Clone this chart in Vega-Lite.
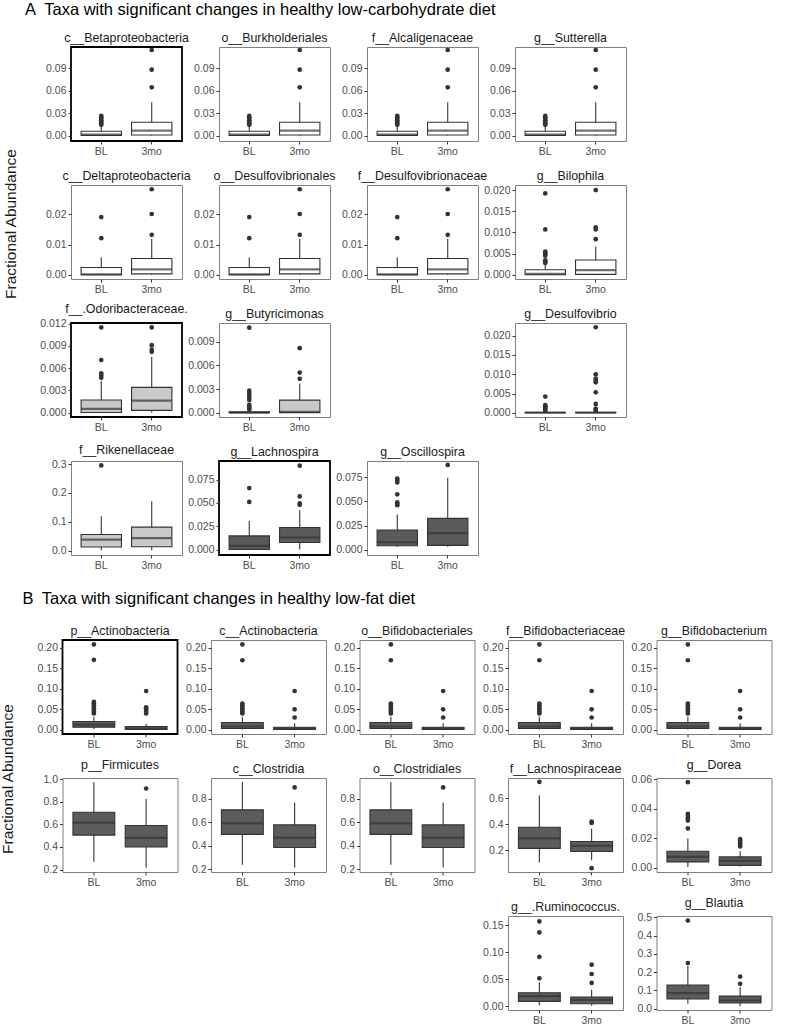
{
"$schema": "https://vega.github.io/schema/vega-lite/v6.json",
"padding": {"left": 0, "top": 2, "right": 2, "bottom": 2},
"datasets": {"d": [
{"p":"c__Betaproteobacteria","g":"BL","lo":0,"q1":0.0004,"md":0.0015,"q3":0.006,"hi":0.0135},
{"p":"c__Betaproteobacteria","g":"3mo","lo":0,"q1":0.001,"md":0.0067,"q3":0.018,"hi":0.0445},
{"p":"c__Betaproteobacteria","g":"BL","v":0.0145},{"p":"c__Betaproteobacteria","g":"BL","v":0.0165},{"p":"c__Betaproteobacteria","g":"BL","v":0.0185},{"p":"c__Betaproteobacteria","g":"BL","v":0.0205},{"p":"c__Betaproteobacteria","g":"BL","v":0.0225},{"p":"c__Betaproteobacteria","g":"BL","v":0.0245},{"p":"c__Betaproteobacteria","g":"BL","v":0.0265},
{"p":"c__Betaproteobacteria","g":"3mo","v":0.0645},{"p":"c__Betaproteobacteria","g":"3mo","v":0.088},{"p":"c__Betaproteobacteria","g":"3mo","v":0.1143},
{"p":"o__Burkholderiales","g":"BL","lo":0,"q1":0.0004,"md":0.0015,"q3":0.006,"hi":0.0135},
{"p":"o__Burkholderiales","g":"3mo","lo":0,"q1":0.001,"md":0.0067,"q3":0.018,"hi":0.0445},
{"p":"o__Burkholderiales","g":"BL","v":0.0145},{"p":"o__Burkholderiales","g":"BL","v":0.0165},{"p":"o__Burkholderiales","g":"BL","v":0.0185},{"p":"o__Burkholderiales","g":"BL","v":0.0205},{"p":"o__Burkholderiales","g":"BL","v":0.0225},{"p":"o__Burkholderiales","g":"BL","v":0.0245},{"p":"o__Burkholderiales","g":"BL","v":0.0265},
{"p":"o__Burkholderiales","g":"3mo","v":0.0645},{"p":"o__Burkholderiales","g":"3mo","v":0.088},{"p":"o__Burkholderiales","g":"3mo","v":0.1143},
{"p":"f__Alcaligenaceae","g":"BL","lo":0,"q1":0.0004,"md":0.0015,"q3":0.006,"hi":0.0135},
{"p":"f__Alcaligenaceae","g":"3mo","lo":0,"q1":0.001,"md":0.0067,"q3":0.018,"hi":0.0445},
{"p":"f__Alcaligenaceae","g":"BL","v":0.0145},{"p":"f__Alcaligenaceae","g":"BL","v":0.0165},{"p":"f__Alcaligenaceae","g":"BL","v":0.0185},{"p":"f__Alcaligenaceae","g":"BL","v":0.0205},{"p":"f__Alcaligenaceae","g":"BL","v":0.0225},{"p":"f__Alcaligenaceae","g":"BL","v":0.0245},{"p":"f__Alcaligenaceae","g":"BL","v":0.0265},
{"p":"f__Alcaligenaceae","g":"3mo","v":0.0645},{"p":"f__Alcaligenaceae","g":"3mo","v":0.088},{"p":"f__Alcaligenaceae","g":"3mo","v":0.1143},
{"p":"g__Sutterella","g":"BL","lo":0,"q1":0.0004,"md":0.0015,"q3":0.006,"hi":0.0135},
{"p":"g__Sutterella","g":"3mo","lo":0,"q1":0.001,"md":0.0067,"q3":0.018,"hi":0.0445},
{"p":"g__Sutterella","g":"BL","v":0.0145},{"p":"g__Sutterella","g":"BL","v":0.0165},{"p":"g__Sutterella","g":"BL","v":0.0185},{"p":"g__Sutterella","g":"BL","v":0.0205},{"p":"g__Sutterella","g":"BL","v":0.0225},{"p":"g__Sutterella","g":"BL","v":0.0245},{"p":"g__Sutterella","g":"BL","v":0.0265},
{"p":"g__Sutterella","g":"3mo","v":0.0645},{"p":"g__Sutterella","g":"3mo","v":0.088},{"p":"g__Sutterella","g":"3mo","v":0.1143},
{"p":"c__Deltaproteobacteria","g":"BL","lo":0,"q1":0,"md":0.0001,"q3":0.0024,"hi":0.0057},
{"p":"c__Deltaproteobacteria","g":"3mo","lo":0,"q1":0.0003,"md":0.0018,"q3":0.0054,"hi":0.0118},
{"p":"c__Deltaproteobacteria","g":"BL","v":0.0121},{"p":"c__Deltaproteobacteria","g":"BL","v":0.0191},
{"p":"c__Deltaproteobacteria","g":"3mo","v":0.0132},{"p":"c__Deltaproteobacteria","g":"3mo","v":0.0201},{"p":"c__Deltaproteobacteria","g":"3mo","v":0.0283},
{"p":"o__Desulfovibrionales","g":"BL","lo":0,"q1":0,"md":0.0001,"q3":0.0024,"hi":0.0057},
{"p":"o__Desulfovibrionales","g":"3mo","lo":0,"q1":0.0003,"md":0.0018,"q3":0.0054,"hi":0.0118},
{"p":"o__Desulfovibrionales","g":"BL","v":0.0121},{"p":"o__Desulfovibrionales","g":"BL","v":0.0191},
{"p":"o__Desulfovibrionales","g":"3mo","v":0.0132},{"p":"o__Desulfovibrionales","g":"3mo","v":0.0201},{"p":"o__Desulfovibrionales","g":"3mo","v":0.0283},
{"p":"f__Desulfovibrionaceae","g":"BL","lo":0,"q1":0,"md":0.0001,"q3":0.0024,"hi":0.0057},
{"p":"f__Desulfovibrionaceae","g":"3mo","lo":0,"q1":0.0003,"md":0.0018,"q3":0.0054,"hi":0.0118},
{"p":"f__Desulfovibrionaceae","g":"BL","v":0.0121},{"p":"f__Desulfovibrionaceae","g":"BL","v":0.0191},
{"p":"f__Desulfovibrionaceae","g":"3mo","v":0.0132},{"p":"f__Desulfovibrionaceae","g":"3mo","v":0.0201},{"p":"f__Desulfovibrionaceae","g":"3mo","v":0.0283},
{"p":"g__Bilophila","g":"BL","lo":0,"q1":0,"md":0.0002,"q3":0.0012,"hi":0.0025},
{"p":"g__Bilophila","g":"3mo","lo":0,"q1":0.0001,"md":0.0011,"q3":0.0035,"hi":0.0067},
{"p":"g__Bilophila","g":"BL","v":0.0028},{"p":"g__Bilophila","g":"BL","v":0.0031},{"p":"g__Bilophila","g":"BL","v":0.0034},{"p":"g__Bilophila","g":"BL","v":0.0045},{"p":"g__Bilophila","g":"BL","v":0.0049},{"p":"g__Bilophila","g":"BL","v":0.0052},{"p":"g__Bilophila","g":"BL","v":0.0055},{"p":"g__Bilophila","g":"BL","v":0.0107},{"p":"g__Bilophila","g":"BL","v":0.0192},
{"p":"g__Bilophila","g":"3mo","v":0.0084},{"p":"g__Bilophila","g":"3mo","v":0.0107},{"p":"g__Bilophila","g":"3mo","v":0.0112},{"p":"g__Bilophila","g":"3mo","v":0.02},
{"p":"f__.Odoribacteraceae.","g":"BL","lo":0,"q1":0,"md":0.0005,"q3":0.0017,"hi":0.0043},
{"p":"f__.Odoribacteraceae.","g":"3mo","lo":0,"q1":0.0003,"md":0.0016,"q3":0.0034,"hi":0.0075},
{"p":"f__.Odoribacteraceae.","g":"BL","v":0.0047},{"p":"f__.Odoribacteraceae.","g":"BL","v":0.005},{"p":"f__.Odoribacteraceae.","g":"BL","v":0.0053},{"p":"f__.Odoribacteraceae.","g":"BL","v":0.0071},{"p":"f__.Odoribacteraceae.","g":"BL","v":0.0115},
{"p":"f__.Odoribacteraceae.","g":"3mo","v":0.0082},{"p":"f__.Odoribacteraceae.","g":"3mo","v":0.0085},{"p":"f__.Odoribacteraceae.","g":"3mo","v":0.0091},{"p":"f__.Odoribacteraceae.","g":"3mo","v":0.0115},
{"p":"g__Butyricimonas","g":"BL","lo":0,"q1":0,"md":0,"q3":0.0001,"hi":0.0002},
{"p":"g__Butyricimonas","g":"3mo","lo":0,"q1":0,"md":0.0001,"q3":0.0016,"hi":0.0037},
{"p":"g__Butyricimonas","g":"BL","v":0.0004},{"p":"g__Butyricimonas","g":"BL","v":0.0006},{"p":"g__Butyricimonas","g":"BL","v":0.0008},{"p":"g__Butyricimonas","g":"BL","v":0.001},{"p":"g__Butyricimonas","g":"BL","v":0.0016},{"p":"g__Butyricimonas","g":"BL","v":0.0019},{"p":"g__Butyricimonas","g":"BL","v":0.0022},{"p":"g__Butyricimonas","g":"BL","v":0.0025},{"p":"g__Butyricimonas","g":"BL","v":0.0028},{"p":"g__Butyricimonas","g":"BL","v":0.0108},
{"p":"g__Butyricimonas","g":"3mo","v":0.0043},{"p":"g__Butyricimonas","g":"3mo","v":0.0051},{"p":"g__Butyricimonas","g":"3mo","v":0.0082},
{"p":"g__Desulfovibrio","g":"BL","lo":0,"q1":0,"md":0,"q3":0.0001,"hi":0.0002},
{"p":"g__Desulfovibrio","g":"3mo","lo":0,"q1":0,"md":0,"q3":0.0001,"hi":0.0002},
{"p":"g__Desulfovibrio","g":"BL","v":0.0005},{"p":"g__Desulfovibrio","g":"BL","v":0.0008},{"p":"g__Desulfovibrio","g":"BL","v":0.0011},{"p":"g__Desulfovibrio","g":"BL","v":0.0014},{"p":"g__Desulfovibrio","g":"BL","v":0.0017},{"p":"g__Desulfovibrio","g":"BL","v":0.002},{"p":"g__Desulfovibrio","g":"BL","v":0.0042},
{"p":"g__Desulfovibrio","g":"3mo","v":0.0005},{"p":"g__Desulfovibrio","g":"3mo","v":0.0008},{"p":"g__Desulfovibrio","g":"3mo","v":0.0011},{"p":"g__Desulfovibrio","g":"3mo","v":0.0023},{"p":"g__Desulfovibrio","g":"3mo","v":0.0053},{"p":"g__Desulfovibrio","g":"3mo","v":0.0079},{"p":"g__Desulfovibrio","g":"3mo","v":0.0084},{"p":"g__Desulfovibrio","g":"3mo","v":0.0089},{"p":"g__Desulfovibrio","g":"3mo","v":0.01},{"p":"g__Desulfovibrio","g":"3mo","v":0.0222},
{"p":"f__Rikenellaceae","g":"BL","lo":0.001,"q1":0.012,"md":0.038,"q3":0.0554,"hi":0.119},
{"p":"f__Rikenellaceae","g":"3mo","lo":0.001,"q1":0.013,"md":0.043,"q3":0.081,"hi":0.171},
{"p":"f__Rikenellaceae","g":"BL","v":0.295},
{"p":"g__Lachnospira","g":"BL","lo":0,"q1":0.0002,"md":0.0042,"q3":0.0148,"hi":0.0306},
{"p":"g__Lachnospira","g":"3mo","lo":0.0002,"q1":0.0078,"md":0.0131,"q3":0.0237,"hi":0.0423},
{"p":"g__Lachnospira","g":"BL","v":0.0511},{"p":"g__Lachnospira","g":"BL","v":0.0659},
{"p":"g__Lachnospira","g":"3mo","v":0.048},{"p":"g__Lachnospira","g":"3mo","v":0.0495},{"p":"g__Lachnospira","g":"3mo","v":0.057},{"p":"g__Lachnospira","g":"3mo","v":0.0898},
{"p":"g__Oscillospira","g":"BL","lo":0.003,"q1":0.0041,"md":0.0079,"q3":0.0205,"hi":0.0365},
{"p":"g__Oscillospira","g":"3mo","lo":0.003,"q1":0.0045,"md":0.0171,"q3":0.0324,"hi":0.0743},
{"p":"g__Oscillospira","g":"BL","v":0.046},{"p":"g__Oscillospira","g":"BL","v":0.0475},{"p":"g__Oscillospira","g":"BL","v":0.049},{"p":"g__Oscillospira","g":"BL","v":0.0573},{"p":"g__Oscillospira","g":"BL","v":0.0695},{"p":"g__Oscillospira","g":"BL","v":0.0715},{"p":"g__Oscillospira","g":"BL","v":0.0735},
{"p":"g__Oscillospira","g":"3mo","v":0.0876},
{"p":"p__Actinobacteria","g":"BL","lo":0.001,"q1":0.0063,"md":0.0125,"q3":0.02,"hi":0.032},
{"p":"p__Actinobacteria","g":"3mo","lo":0,"q1":0.001,"md":0.003,"q3":0.008,"hi":0.0146},
{"p":"p__Actinobacteria","g":"BL","v":0.04},{"p":"p__Actinobacteria","g":"BL","v":0.044},{"p":"p__Actinobacteria","g":"BL","v":0.048},{"p":"p__Actinobacteria","g":"BL","v":0.052},{"p":"p__Actinobacteria","g":"BL","v":0.056},{"p":"p__Actinobacteria","g":"BL","v":0.06},{"p":"p__Actinobacteria","g":"BL","v":0.064},{"p":"p__Actinobacteria","g":"BL","v":0.068},{"p":"p__Actinobacteria","g":"BL","v":0.171},{"p":"p__Actinobacteria","g":"BL","v":0.2087},
{"p":"p__Actinobacteria","g":"3mo","v":0.04},{"p":"p__Actinobacteria","g":"3mo","v":0.044},{"p":"p__Actinobacteria","g":"3mo","v":0.048},{"p":"p__Actinobacteria","g":"3mo","v":0.052},{"p":"p__Actinobacteria","g":"3mo","v":0.055},{"p":"p__Actinobacteria","g":"3mo","v":0.0947},
{"p":"c__Actinobacteria","g":"BL","lo":0.0005,"q1":0.003,"md":0.008,"q3":0.0178,"hi":0.032},
{"p":"c__Actinobacteria","g":"3mo","lo":0,"q1":0.001,"md":0.003,"q3":0.006,"hi":0.016},
{"p":"c__Actinobacteria","g":"BL","v":0.04},{"p":"c__Actinobacteria","g":"BL","v":0.044},{"p":"c__Actinobacteria","g":"BL","v":0.048},{"p":"c__Actinobacteria","g":"BL","v":0.052},{"p":"c__Actinobacteria","g":"BL","v":0.056},{"p":"c__Actinobacteria","g":"BL","v":0.06},{"p":"c__Actinobacteria","g":"BL","v":0.064},{"p":"c__Actinobacteria","g":"BL","v":0.17},{"p":"c__Actinobacteria","g":"BL","v":0.2087},
{"p":"c__Actinobacteria","g":"3mo","v":0.0299},{"p":"c__Actinobacteria","g":"3mo","v":0.05},{"p":"c__Actinobacteria","g":"3mo","v":0.0947},
{"p":"o__Bifidobacteriales","g":"BL","lo":0.0005,"q1":0.003,"md":0.008,"q3":0.0178,"hi":0.032},
{"p":"o__Bifidobacteriales","g":"3mo","lo":0,"q1":0.001,"md":0.003,"q3":0.006,"hi":0.016},
{"p":"o__Bifidobacteriales","g":"BL","v":0.04},{"p":"o__Bifidobacteriales","g":"BL","v":0.044},{"p":"o__Bifidobacteriales","g":"BL","v":0.048},{"p":"o__Bifidobacteriales","g":"BL","v":0.052},{"p":"o__Bifidobacteriales","g":"BL","v":0.056},{"p":"o__Bifidobacteriales","g":"BL","v":0.06},{"p":"o__Bifidobacteriales","g":"BL","v":0.064},{"p":"o__Bifidobacteriales","g":"BL","v":0.17},{"p":"o__Bifidobacteriales","g":"BL","v":0.2087},
{"p":"o__Bifidobacteriales","g":"3mo","v":0.0299},{"p":"o__Bifidobacteriales","g":"3mo","v":0.05},{"p":"o__Bifidobacteriales","g":"3mo","v":0.0947},
{"p":"f__Bifidobacteriaceae","g":"BL","lo":0.0005,"q1":0.003,"md":0.008,"q3":0.0178,"hi":0.032},
{"p":"f__Bifidobacteriaceae","g":"3mo","lo":0,"q1":0.001,"md":0.003,"q3":0.006,"hi":0.016},
{"p":"f__Bifidobacteriaceae","g":"BL","v":0.04},{"p":"f__Bifidobacteriaceae","g":"BL","v":0.044},{"p":"f__Bifidobacteriaceae","g":"BL","v":0.048},{"p":"f__Bifidobacteriaceae","g":"BL","v":0.052},{"p":"f__Bifidobacteriaceae","g":"BL","v":0.056},{"p":"f__Bifidobacteriaceae","g":"BL","v":0.06},{"p":"f__Bifidobacteriaceae","g":"BL","v":0.064},{"p":"f__Bifidobacteriaceae","g":"BL","v":0.17},{"p":"f__Bifidobacteriaceae","g":"BL","v":0.2087},
{"p":"f__Bifidobacteriaceae","g":"3mo","v":0.0299},{"p":"f__Bifidobacteriaceae","g":"3mo","v":0.05},{"p":"f__Bifidobacteriaceae","g":"3mo","v":0.0947},
{"p":"g__Bifidobacterium","g":"BL","lo":0.0005,"q1":0.003,"md":0.008,"q3":0.0178,"hi":0.032},
{"p":"g__Bifidobacterium","g":"3mo","lo":0,"q1":0.001,"md":0.003,"q3":0.006,"hi":0.016},
{"p":"g__Bifidobacterium","g":"BL","v":0.04},{"p":"g__Bifidobacterium","g":"BL","v":0.044},{"p":"g__Bifidobacterium","g":"BL","v":0.048},{"p":"g__Bifidobacterium","g":"BL","v":0.052},{"p":"g__Bifidobacterium","g":"BL","v":0.056},{"p":"g__Bifidobacterium","g":"BL","v":0.06},{"p":"g__Bifidobacterium","g":"BL","v":0.064},{"p":"g__Bifidobacterium","g":"BL","v":0.17},{"p":"g__Bifidobacterium","g":"BL","v":0.2087},
{"p":"g__Bifidobacterium","g":"3mo","v":0.0299},{"p":"g__Bifidobacterium","g":"3mo","v":0.05},{"p":"g__Bifidobacterium","g":"3mo","v":0.0947},
{"p":"p__Firmicutes","g":"BL","lo":0.269,"q1":0.505,"md":0.615,"q3":0.707,"hi":0.973},
{"p":"p__Firmicutes","g":"3mo","lo":0.216,"q1":0.4,"md":0.48,"q3":0.59,"hi":0.824},
{"p":"p__Firmicutes","g":"3mo","v":0.918},
{"p":"c__Clostridia","g":"BL","lo":0.239,"q1":0.497,"md":0.591,"q3":0.706,"hi":0.943},
{"p":"c__Clostridia","g":"3mo","lo":0.215,"q1":0.386,"md":0.47,"q3":0.578,"hi":0.769},
{"p":"c__Clostridia","g":"3mo","v":0.897},
{"p":"o__Clostridiales","g":"BL","lo":0.239,"q1":0.497,"md":0.591,"q3":0.706,"hi":0.943},
{"p":"o__Clostridiales","g":"3mo","lo":0.215,"q1":0.386,"md":0.47,"q3":0.578,"hi":0.769},
{"p":"o__Clostridiales","g":"3mo","v":0.897},
{"p":"f__Lachnospiraceae","g":"BL","lo":0.108,"q1":0.216,"md":0.293,"q3":0.378,"hi":0.62},
{"p":"f__Lachnospiraceae","g":"3mo","lo":0.124,"q1":0.192,"md":0.236,"q3":0.268,"hi":0.366},
{"p":"f__Lachnospiraceae","g":"BL","v":0.725},
{"p":"f__Lachnospiraceae","g":"3mo","v":0.41},{"p":"f__Lachnospiraceae","g":"3mo","v":0.42},{"p":"f__Lachnospiraceae","g":"3mo","v":0.064},
{"p":"g__Dorea","g":"BL","lo":0.0007,"q1":0.0041,"md":0.0075,"q3":0.0113,"hi":0.0199},
{"p":"g__Dorea","g":"3mo","lo":0.001,"q1":0.0018,"md":0.0048,"q3":0.0075,"hi":0.0113},
{"p":"g__Dorea","g":"BL","v":0.0267},{"p":"g__Dorea","g":"BL","v":0.032},{"p":"g__Dorea","g":"BL","v":0.0335},{"p":"g__Dorea","g":"BL","v":0.035},{"p":"g__Dorea","g":"BL","v":0.0365},{"p":"g__Dorea","g":"BL","v":0.0579},
{"p":"g__Dorea","g":"3mo","v":0.0145},{"p":"g__Dorea","g":"3mo","v":0.0155},{"p":"g__Dorea","g":"3mo","v":0.0165},{"p":"g__Dorea","g":"3mo","v":0.0175},{"p":"g__Dorea","g":"3mo","v":0.0185},{"p":"g__Dorea","g":"3mo","v":0.0195},
{"p":"g__.Ruminococcus.","g":"BL","lo":0.0018,"q1":0.0091,"md":0.019,"q3":0.025,"hi":0.0445},
{"p":"g__.Ruminococcus.","g":"3mo","lo":0.001,"q1":0.0048,"md":0.012,"q3":0.017,"hi":0.0305},
{"p":"g__.Ruminococcus.","g":"BL","v":0.0518},{"p":"g__.Ruminococcus.","g":"BL","v":0.0915},{"p":"g__.Ruminococcus.","g":"BL","v":0.1366},{"p":"g__.Ruminococcus.","g":"BL","v":0.157},
{"p":"g__.Ruminococcus.","g":"3mo","v":0.0433},{"p":"g__.Ruminococcus.","g":"3mo","v":0.0598},{"p":"g__.Ruminococcus.","g":"3mo","v":0.077},
{"p":"g__Blautia","g":"BL","lo":0.027,"q1":0.054,"md":0.085,"q3":0.13,"hi":0.235},
{"p":"g__Blautia","g":"3mo","lo":0.0146,"q1":0.031,"md":0.045,"q3":0.069,"hi":0.118},
{"p":"g__Blautia","g":"BL","v":0.25},{"p":"g__Blautia","g":"BL","v":0.482},
{"p":"g__Blautia","g":"3mo","v":0.136},{"p":"g__Blautia","g":"3mo","v":0.176}
]},
"data": {"name": "d"},
"spacing": 19,
"vconcat": [
{"title":{"text":"A\u2002Taxa with significant changes in healthy low-carbohydrate diet","fontSize":16.5,"anchor":"start","frame":"group","dx":22,"offset":12,"color":"#000000"},
 "columns":5,"align":"each","bounds":"flush","spacing":{"row":44,"column":37},
 "concat":[
  {"width":31,"height":1,"view":{"stroke":null},"data":{"values":[{"t":""}]},"mark":{"type":"text"},"encoding":{"text":{"field":"t","type":"nominal"}}},
  {"title":"c__Betaproteobacteria","width":111,"height":94,"view":{"stroke":"#000000","strokeWidth":1.8},"transform":[{"filter":{"field":"p","equal":"c__Betaproteobacteria"}}],"encoding":{"x":{"field":"g","type":"nominal","sort":["BL","3mo"],"title":null,"scale":{"paddingInner":0,"paddingOuter":0.1},"axis":{"labelAngle":0}}},"layer":[
   {"transform":[{"filter":{"field":"q1","valid":true}}],"mark":"rule","encoding":{"y":{"field":"lo","type":"quantitative","title":null},"y2":{"field":"hi"}}},
   {"transform":[{"filter":{"field":"q1","valid":true}}],"mark":{"type":"bar","fill":"#ffffff","width":{"band":0.8}},"encoding":{"y":{"field":"q1","type":"quantitative","title":null},"y2":{"field":"q3"}}},
   {"transform":[{"filter":{"field":"q1","valid":true}}],"mark":{"type":"tick","size":40},"encoding":{"y":{"field":"md","type":"quantitative","title":null,"scale":{"domain":[-0.0071,0.1183],"nice":false,"zero":false},"axis":{"values":[0,0.03,0.06,0.09],"format":".2f","tickCount":10}}}},
   {"transform":[{"filter":{"field":"v","valid":true}}],"mark":"point","encoding":{"y":{"field":"v","type":"quantitative","title":null}}}]},
  {"title":"o__Burkholderiales","width":111,"height":94,"transform":[{"filter":{"field":"p","equal":"o__Burkholderiales"}}],"encoding":{"x":{"field":"g","type":"nominal","sort":["BL","3mo"],"title":null,"scale":{"paddingInner":0,"paddingOuter":0.1},"axis":{"labelAngle":0}}},"layer":[
   {"transform":[{"filter":{"field":"q1","valid":true}}],"mark":"rule","encoding":{"y":{"field":"lo","type":"quantitative","title":null},"y2":{"field":"hi"}}},
   {"transform":[{"filter":{"field":"q1","valid":true}}],"mark":{"type":"bar","fill":"#ffffff","width":{"band":0.8}},"encoding":{"y":{"field":"q1","type":"quantitative","title":null},"y2":{"field":"q3"}}},
   {"transform":[{"filter":{"field":"q1","valid":true}}],"mark":{"type":"tick","size":40},"encoding":{"y":{"field":"md","type":"quantitative","title":null,"scale":{"domain":[-0.0071,0.1183],"nice":false,"zero":false},"axis":{"values":[0,0.03,0.06,0.09],"format":".2f","tickCount":10}}}},
   {"transform":[{"filter":{"field":"v","valid":true}}],"mark":"point","encoding":{"y":{"field":"v","type":"quantitative","title":null}}}]},
  {"title":"f__Alcaligenaceae","width":111,"height":94,"transform":[{"filter":{"field":"p","equal":"f__Alcaligenaceae"}}],"encoding":{"x":{"field":"g","type":"nominal","sort":["BL","3mo"],"title":null,"scale":{"paddingInner":0,"paddingOuter":0.1},"axis":{"labelAngle":0}}},"layer":[
   {"transform":[{"filter":{"field":"q1","valid":true}}],"mark":"rule","encoding":{"y":{"field":"lo","type":"quantitative","title":null},"y2":{"field":"hi"}}},
   {"transform":[{"filter":{"field":"q1","valid":true}}],"mark":{"type":"bar","fill":"#ffffff","width":{"band":0.8}},"encoding":{"y":{"field":"q1","type":"quantitative","title":null},"y2":{"field":"q3"}}},
   {"transform":[{"filter":{"field":"q1","valid":true}}],"mark":{"type":"tick","size":40},"encoding":{"y":{"field":"md","type":"quantitative","title":null,"scale":{"domain":[-0.0071,0.1183],"nice":false,"zero":false},"axis":{"values":[0,0.03,0.06,0.09],"format":".2f","tickCount":10}}}},
   {"transform":[{"filter":{"field":"v","valid":true}}],"mark":"point","encoding":{"y":{"field":"v","type":"quantitative","title":null}}}]},
  {"title":"g__Sutterella","width":111,"height":94,"transform":[{"filter":{"field":"p","equal":"g__Sutterella"}}],"encoding":{"x":{"field":"g","type":"nominal","sort":["BL","3mo"],"title":null,"scale":{"paddingInner":0,"paddingOuter":0.1},"axis":{"labelAngle":0}}},"layer":[
   {"transform":[{"filter":{"field":"q1","valid":true}}],"mark":"rule","encoding":{"y":{"field":"lo","type":"quantitative","title":null},"y2":{"field":"hi"}}},
   {"transform":[{"filter":{"field":"q1","valid":true}}],"mark":{"type":"bar","fill":"#ffffff","width":{"band":0.8}},"encoding":{"y":{"field":"q1","type":"quantitative","title":null},"y2":{"field":"q3"}}},
   {"transform":[{"filter":{"field":"q1","valid":true}}],"mark":{"type":"tick","size":40},"encoding":{"y":{"field":"md","type":"quantitative","title":null,"scale":{"domain":[-0.0071,0.1183],"nice":false,"zero":false},"axis":{"values":[0,0.03,0.06,0.09],"format":".2f","tickCount":10}}}},
   {"transform":[{"filter":{"field":"v","valid":true}}],"mark":"point","encoding":{"y":{"field":"v","type":"quantitative","title":null}}}]},
  {"width":31,"height":78,"view":{"stroke":null},"data":{"values":[{"t":"Fractional Abundance"}]},"mark":{"type":"text","angle":270,"baseline":"bottom","fontSize":15.5,"color":"#1a1a1a"},"encoding":{"text":{"field":"t","type":"nominal"}}},
  {"title":"c__Deltaproteobacteria","width":111,"height":94,"transform":[{"filter":{"field":"p","equal":"c__Deltaproteobacteria"}}],"encoding":{"x":{"field":"g","type":"nominal","sort":["BL","3mo"],"title":null,"scale":{"paddingInner":0,"paddingOuter":0.1},"axis":{"labelAngle":0}}},"layer":[
   {"transform":[{"filter":{"field":"q1","valid":true}}],"mark":"rule","encoding":{"y":{"field":"lo","type":"quantitative","title":null},"y2":{"field":"hi"}}},
   {"transform":[{"filter":{"field":"q1","valid":true}}],"mark":{"type":"bar","fill":"#ffffff","width":{"band":0.8}},"encoding":{"y":{"field":"q1","type":"quantitative","title":null},"y2":{"field":"q3"}}},
   {"transform":[{"filter":{"field":"q1","valid":true}}],"mark":{"type":"tick","size":40},"encoding":{"y":{"field":"md","type":"quantitative","title":null,"scale":{"domain":[-0.0014,0.0297],"nice":false,"zero":false},"axis":{"values":[0,0.01,0.02],"format":".2f","tickCount":10}}}},
   {"transform":[{"filter":{"field":"v","valid":true}}],"mark":"point","encoding":{"y":{"field":"v","type":"quantitative","title":null}}}]},
  {"title":"o__Desulfovibrionales","width":111,"height":94,"transform":[{"filter":{"field":"p","equal":"o__Desulfovibrionales"}}],"encoding":{"x":{"field":"g","type":"nominal","sort":["BL","3mo"],"title":null,"scale":{"paddingInner":0,"paddingOuter":0.1},"axis":{"labelAngle":0}}},"layer":[
   {"transform":[{"filter":{"field":"q1","valid":true}}],"mark":"rule","encoding":{"y":{"field":"lo","type":"quantitative","title":null},"y2":{"field":"hi"}}},
   {"transform":[{"filter":{"field":"q1","valid":true}}],"mark":{"type":"bar","fill":"#ffffff","width":{"band":0.8}},"encoding":{"y":{"field":"q1","type":"quantitative","title":null},"y2":{"field":"q3"}}},
   {"transform":[{"filter":{"field":"q1","valid":true}}],"mark":{"type":"tick","size":40},"encoding":{"y":{"field":"md","type":"quantitative","title":null,"scale":{"domain":[-0.0014,0.0297],"nice":false,"zero":false},"axis":{"values":[0,0.01,0.02],"format":".2f","tickCount":10}}}},
   {"transform":[{"filter":{"field":"v","valid":true}}],"mark":"point","encoding":{"y":{"field":"v","type":"quantitative","title":null}}}]},
  {"title":"f__Desulfovibrionaceae","width":111,"height":94,"transform":[{"filter":{"field":"p","equal":"f__Desulfovibrionaceae"}}],"encoding":{"x":{"field":"g","type":"nominal","sort":["BL","3mo"],"title":null,"scale":{"paddingInner":0,"paddingOuter":0.1},"axis":{"labelAngle":0}}},"layer":[
   {"transform":[{"filter":{"field":"q1","valid":true}}],"mark":"rule","encoding":{"y":{"field":"lo","type":"quantitative","title":null},"y2":{"field":"hi"}}},
   {"transform":[{"filter":{"field":"q1","valid":true}}],"mark":{"type":"bar","fill":"#ffffff","width":{"band":0.8}},"encoding":{"y":{"field":"q1","type":"quantitative","title":null},"y2":{"field":"q3"}}},
   {"transform":[{"filter":{"field":"q1","valid":true}}],"mark":{"type":"tick","size":40},"encoding":{"y":{"field":"md","type":"quantitative","title":null,"scale":{"domain":[-0.0014,0.0297],"nice":false,"zero":false},"axis":{"values":[0,0.01,0.02],"format":".2f","tickCount":10}}}},
   {"transform":[{"filter":{"field":"v","valid":true}}],"mark":"point","encoding":{"y":{"field":"v","type":"quantitative","title":null}}}]},
  {"title":"g__Bilophila","width":111,"height":94,"transform":[{"filter":{"field":"p","equal":"g__Bilophila"}}],"encoding":{"x":{"field":"g","type":"nominal","sort":["BL","3mo"],"title":null,"scale":{"paddingInner":0,"paddingOuter":0.1},"axis":{"labelAngle":0}}},"layer":[
   {"transform":[{"filter":{"field":"q1","valid":true}}],"mark":"rule","encoding":{"y":{"field":"lo","type":"quantitative","title":null},"y2":{"field":"hi"}}},
   {"transform":[{"filter":{"field":"q1","valid":true}}],"mark":{"type":"bar","fill":"#ffffff","width":{"band":0.8}},"encoding":{"y":{"field":"q1","type":"quantitative","title":null},"y2":{"field":"q3"}}},
   {"transform":[{"filter":{"field":"q1","valid":true}}],"mark":{"type":"tick","size":40},"encoding":{"y":{"field":"md","type":"quantitative","title":null,"scale":{"domain":[-0.001,0.0212],"nice":false,"zero":false},"axis":{"values":[0,0.005,0.01,0.015,0.02],"format":".3f","tickCount":10}}}},
   {"transform":[{"filter":{"field":"v","valid":true}}],"mark":"point","encoding":{"y":{"field":"v","type":"quantitative","title":null}}}]},
  {"width":31,"height":1,"view":{"stroke":null},"data":{"values":[{"t":""}]},"mark":{"type":"text"},"encoding":{"text":{"field":"t","type":"nominal"}}},
  {"title":"f__.Odoribacteraceae.","width":111,"height":94,"view":{"stroke":"#000000","strokeWidth":1.8},"transform":[{"filter":{"field":"p","equal":"f__.Odoribacteraceae."}}],"encoding":{"x":{"field":"g","type":"nominal","sort":["BL","3mo"],"title":null,"scale":{"paddingInner":0,"paddingOuter":0.1},"axis":{"labelAngle":0}}},"layer":[
   {"transform":[{"filter":{"field":"q1","valid":true}}],"mark":"rule","encoding":{"y":{"field":"lo","type":"quantitative","title":null},"y2":{"field":"hi"}}},
   {"transform":[{"filter":{"field":"q1","valid":true}}],"mark":{"type":"bar","fill":"#c9c9c9","width":{"band":0.8}},"encoding":{"y":{"field":"q1","type":"quantitative","title":null},"y2":{"field":"q3"}}},
   {"transform":[{"filter":{"field":"q1","valid":true}}],"mark":{"type":"tick","size":40},"encoding":{"y":{"field":"md","type":"quantitative","title":null,"scale":{"domain":[-0.0006,0.0121],"nice":false,"zero":false},"axis":{"values":[0,0.003,0.006,0.009,0.012],"format":".3f","tickCount":10}}}},
   {"transform":[{"filter":{"field":"v","valid":true}}],"mark":"point","encoding":{"y":{"field":"v","type":"quantitative","title":null}}}]},
  {"title":"g__Butyricimonas","width":111,"height":94,"transform":[{"filter":{"field":"p","equal":"g__Butyricimonas"}}],"encoding":{"x":{"field":"g","type":"nominal","sort":["BL","3mo"],"title":null,"scale":{"paddingInner":0,"paddingOuter":0.1},"axis":{"labelAngle":0}}},"layer":[
   {"transform":[{"filter":{"field":"q1","valid":true}}],"mark":"rule","encoding":{"y":{"field":"lo","type":"quantitative","title":null},"y2":{"field":"hi"}}},
   {"transform":[{"filter":{"field":"q1","valid":true}}],"mark":{"type":"bar","fill":"#c9c9c9","width":{"band":0.8}},"encoding":{"y":{"field":"q1","type":"quantitative","title":null},"y2":{"field":"q3"}}},
   {"transform":[{"filter":{"field":"q1","valid":true}}],"mark":{"type":"tick","size":40},"encoding":{"y":{"field":"md","type":"quantitative","title":null,"scale":{"domain":[-0.00055,0.0114],"nice":false,"zero":false},"axis":{"values":[0,0.003,0.006,0.009],"format":".3f","tickCount":10}}}},
   {"transform":[{"filter":{"field":"v","valid":true}}],"mark":"point","encoding":{"y":{"field":"v","type":"quantitative","title":null}}}]},
  {"width":111,"height":1,"view":{"stroke":null},"data":{"values":[{"t":""}]},"mark":{"type":"text"},"encoding":{"text":{"field":"t","type":"nominal"}}},
  {"title":"g__Desulfovibrio","width":111,"height":94,"transform":[{"filter":{"field":"p","equal":"g__Desulfovibrio"}}],"encoding":{"x":{"field":"g","type":"nominal","sort":["BL","3mo"],"title":null,"scale":{"paddingInner":0,"paddingOuter":0.1},"axis":{"labelAngle":0}}},"layer":[
   {"transform":[{"filter":{"field":"q1","valid":true}}],"mark":"rule","encoding":{"y":{"field":"lo","type":"quantitative","title":null},"y2":{"field":"hi"}}},
   {"transform":[{"filter":{"field":"q1","valid":true}}],"mark":{"type":"bar","fill":"#ffffff","width":{"band":0.8}},"encoding":{"y":{"field":"q1","type":"quantitative","title":null},"y2":{"field":"q3"}}},
   {"transform":[{"filter":{"field":"q1","valid":true}}],"mark":{"type":"tick","size":40},"encoding":{"y":{"field":"md","type":"quantitative","title":null,"scale":{"domain":[-0.0011,0.0233],"nice":false,"zero":false},"axis":{"values":[0,0.005,0.01,0.015,0.02],"format":".3f","tickCount":10}}}},
   {"transform":[{"filter":{"field":"v","valid":true}}],"mark":"point","encoding":{"y":{"field":"v","type":"quantitative","title":null}}}]},
  {"width":31,"height":1,"view":{"stroke":null},"data":{"values":[{"t":""}]},"mark":{"type":"text"},"encoding":{"text":{"field":"t","type":"nominal"}}},
  {"title":"f__Rikenellaceae","width":111,"height":94,"transform":[{"filter":{"field":"p","equal":"f__Rikenellaceae"}}],"encoding":{"x":{"field":"g","type":"nominal","sort":["BL","3mo"],"title":null,"scale":{"paddingInner":0,"paddingOuter":0.1},"axis":{"labelAngle":0}}},"layer":[
   {"transform":[{"filter":{"field":"q1","valid":true}}],"mark":"rule","encoding":{"y":{"field":"lo","type":"quantitative","title":null},"y2":{"field":"hi"}}},
   {"transform":[{"filter":{"field":"q1","valid":true}}],"mark":{"type":"bar","fill":"#c9c9c9","width":{"band":0.8}},"encoding":{"y":{"field":"q1","type":"quantitative","title":null},"y2":{"field":"q3"}}},
   {"transform":[{"filter":{"field":"q1","valid":true}}],"mark":{"type":"tick","size":40},"encoding":{"y":{"field":"md","type":"quantitative","title":null,"scale":{"domain":[-0.0155,0.3105],"nice":false,"zero":false},"axis":{"values":[0,0.1,0.2,0.3],"format":".1f","tickCount":10}}}},
   {"transform":[{"filter":{"field":"v","valid":true}}],"mark":"point","encoding":{"y":{"field":"v","type":"quantitative","title":null}}}]},
  {"title":"g__Lachnospira","width":111,"height":94,"view":{"stroke":"#000000","strokeWidth":1.8},"transform":[{"filter":{"field":"p","equal":"g__Lachnospira"}}],"encoding":{"x":{"field":"g","type":"nominal","sort":["BL","3mo"],"title":null,"scale":{"paddingInner":0,"paddingOuter":0.1},"axis":{"labelAngle":0}}},"layer":[
   {"transform":[{"filter":{"field":"q1","valid":true}}],"mark":"rule","encoding":{"y":{"field":"lo","type":"quantitative","title":null},"y2":{"field":"hi"}}},
   {"transform":[{"filter":{"field":"q1","valid":true}}],"mark":{"type":"bar","fill":"#5a5a5a","width":{"band":0.8}},"encoding":{"y":{"field":"q1","type":"quantitative","title":null},"y2":{"field":"q3"}}},
   {"transform":[{"filter":{"field":"q1","valid":true}}],"mark":{"type":"tick","size":40},"encoding":{"y":{"field":"md","type":"quantitative","title":null,"scale":{"domain":[-0.0056,0.0948],"nice":false,"zero":false},"axis":{"values":[0,0.025,0.05,0.075],"format":".3f","tickCount":10}}}},
   {"transform":[{"filter":{"field":"v","valid":true}}],"mark":"point","encoding":{"y":{"field":"v","type":"quantitative","title":null}}}]},
  {"title":"g__Oscillospira","width":111,"height":94,"transform":[{"filter":{"field":"p","equal":"g__Oscillospira"}}],"encoding":{"x":{"field":"g","type":"nominal","sort":["BL","3mo"],"title":null,"scale":{"paddingInner":0,"paddingOuter":0.1},"axis":{"labelAngle":0}}},"layer":[
   {"transform":[{"filter":{"field":"q1","valid":true}}],"mark":"rule","encoding":{"y":{"field":"lo","type":"quantitative","title":null},"y2":{"field":"hi"}}},
   {"transform":[{"filter":{"field":"q1","valid":true}}],"mark":{"type":"bar","fill":"#5a5a5a","width":{"band":0.8}},"encoding":{"y":{"field":"q1","type":"quantitative","title":null},"y2":{"field":"q3"}}},
   {"transform":[{"filter":{"field":"q1","valid":true}}],"mark":{"type":"tick","size":40},"encoding":{"y":{"field":"md","type":"quantitative","title":null,"scale":{"domain":[-0.0054,0.0917],"nice":false,"zero":false},"axis":{"values":[0,0.025,0.05,0.075],"format":".3f","tickCount":10}}}},
   {"transform":[{"filter":{"field":"v","valid":true}}],"mark":"point","encoding":{"y":{"field":"v","type":"quantitative","title":null}}}]}
 ]},
{"title":{"text":"B\u2002Taxa with significant changes in healthy low-fat diet","fontSize":16.5,"anchor":"start","frame":"group","dx":19.5,"offset":16,"color":"#000000"},
 "columns":6,"align":"each","bounds":"flush","spacing":{"row":44,"column":33.5},
 "concat":[
  {"width":26,"height":1,"view":{"stroke":null},"data":{"values":[{"t":""}]},"mark":{"type":"text"},"encoding":{"text":{"field":"t","type":"nominal"}}},
  {"title":"p__Actinobacteria","width":115,"height":94,"view":{"stroke":"#000000","strokeWidth":1.8},"transform":[{"filter":{"field":"p","equal":"p__Actinobacteria"}}],"encoding":{"x":{"field":"g","type":"nominal","sort":["BL","3mo"],"title":null,"scale":{"paddingInner":0,"paddingOuter":0.1},"axis":{"labelAngle":0}}},"layer":[
   {"transform":[{"filter":{"field":"q1","valid":true}}],"mark":"rule","encoding":{"y":{"field":"lo","type":"quantitative","title":null},"y2":{"field":"hi"}}},
   {"transform":[{"filter":{"field":"q1","valid":true}}],"mark":{"type":"bar","fill":"#5c5c5c","width":{"band":0.8}},"encoding":{"y":{"field":"q1","type":"quantitative","title":null},"y2":{"field":"q3"}}},
   {"transform":[{"filter":{"field":"q1","valid":true}}],"mark":{"type":"tick","size":42},"encoding":{"y":{"field":"md","type":"quantitative","title":null,"scale":{"domain":[-0.0104,0.2195],"nice":false,"zero":false},"axis":{"values":[0,0.05,0.1,0.15,0.2],"format":".2f","tickCount":10}}}},
   {"transform":[{"filter":{"field":"v","valid":true}}],"mark":"point","encoding":{"y":{"field":"v","type":"quantitative","title":null}}}]},
  {"title":"c__Actinobacteria","width":115,"height":94,"transform":[{"filter":{"field":"p","equal":"c__Actinobacteria"}}],"encoding":{"x":{"field":"g","type":"nominal","sort":["BL","3mo"],"title":null,"scale":{"paddingInner":0,"paddingOuter":0.1},"axis":{"labelAngle":0}}},"layer":[
   {"transform":[{"filter":{"field":"q1","valid":true}}],"mark":"rule","encoding":{"y":{"field":"lo","type":"quantitative","title":null},"y2":{"field":"hi"}}},
   {"transform":[{"filter":{"field":"q1","valid":true}}],"mark":{"type":"bar","fill":"#5c5c5c","width":{"band":0.8}},"encoding":{"y":{"field":"q1","type":"quantitative","title":null},"y2":{"field":"q3"}}},
   {"transform":[{"filter":{"field":"q1","valid":true}}],"mark":{"type":"tick","size":42},"encoding":{"y":{"field":"md","type":"quantitative","title":null,"scale":{"domain":[-0.0104,0.2195],"nice":false,"zero":false},"axis":{"values":[0,0.05,0.1,0.15,0.2],"format":".2f","tickCount":10}}}},
   {"transform":[{"filter":{"field":"v","valid":true}}],"mark":"point","encoding":{"y":{"field":"v","type":"quantitative","title":null}}}]},
  {"title":"o__Bifidobacteriales","width":115,"height":94,"transform":[{"filter":{"field":"p","equal":"o__Bifidobacteriales"}}],"encoding":{"x":{"field":"g","type":"nominal","sort":["BL","3mo"],"title":null,"scale":{"paddingInner":0,"paddingOuter":0.1},"axis":{"labelAngle":0}}},"layer":[
   {"transform":[{"filter":{"field":"q1","valid":true}}],"mark":"rule","encoding":{"y":{"field":"lo","type":"quantitative","title":null},"y2":{"field":"hi"}}},
   {"transform":[{"filter":{"field":"q1","valid":true}}],"mark":{"type":"bar","fill":"#5c5c5c","width":{"band":0.8}},"encoding":{"y":{"field":"q1","type":"quantitative","title":null},"y2":{"field":"q3"}}},
   {"transform":[{"filter":{"field":"q1","valid":true}}],"mark":{"type":"tick","size":42},"encoding":{"y":{"field":"md","type":"quantitative","title":null,"scale":{"domain":[-0.0104,0.2195],"nice":false,"zero":false},"axis":{"values":[0,0.05,0.1,0.15,0.2],"format":".2f","tickCount":10}}}},
   {"transform":[{"filter":{"field":"v","valid":true}}],"mark":"point","encoding":{"y":{"field":"v","type":"quantitative","title":null}}}]},
  {"title":"f__Bifidobacteriaceae","width":115,"height":94,"transform":[{"filter":{"field":"p","equal":"f__Bifidobacteriaceae"}}],"encoding":{"x":{"field":"g","type":"nominal","sort":["BL","3mo"],"title":null,"scale":{"paddingInner":0,"paddingOuter":0.1},"axis":{"labelAngle":0}}},"layer":[
   {"transform":[{"filter":{"field":"q1","valid":true}}],"mark":"rule","encoding":{"y":{"field":"lo","type":"quantitative","title":null},"y2":{"field":"hi"}}},
   {"transform":[{"filter":{"field":"q1","valid":true}}],"mark":{"type":"bar","fill":"#5c5c5c","width":{"band":0.8}},"encoding":{"y":{"field":"q1","type":"quantitative","title":null},"y2":{"field":"q3"}}},
   {"transform":[{"filter":{"field":"q1","valid":true}}],"mark":{"type":"tick","size":42},"encoding":{"y":{"field":"md","type":"quantitative","title":null,"scale":{"domain":[-0.0104,0.2195],"nice":false,"zero":false},"axis":{"values":[0,0.05,0.1,0.15,0.2],"format":".2f","tickCount":10}}}},
   {"transform":[{"filter":{"field":"v","valid":true}}],"mark":"point","encoding":{"y":{"field":"v","type":"quantitative","title":null}}}]},
  {"title":"g__Bifidobacterium","width":115,"height":94,"transform":[{"filter":{"field":"p","equal":"g__Bifidobacterium"}}],"encoding":{"x":{"field":"g","type":"nominal","sort":["BL","3mo"],"title":null,"scale":{"paddingInner":0,"paddingOuter":0.1},"axis":{"labelAngle":0}}},"layer":[
   {"transform":[{"filter":{"field":"q1","valid":true}}],"mark":"rule","encoding":{"y":{"field":"lo","type":"quantitative","title":null},"y2":{"field":"hi"}}},
   {"transform":[{"filter":{"field":"q1","valid":true}}],"mark":{"type":"bar","fill":"#5c5c5c","width":{"band":0.8}},"encoding":{"y":{"field":"q1","type":"quantitative","title":null},"y2":{"field":"q3"}}},
   {"transform":[{"filter":{"field":"q1","valid":true}}],"mark":{"type":"tick","size":42},"encoding":{"y":{"field":"md","type":"quantitative","title":null,"scale":{"domain":[-0.0104,0.2195],"nice":false,"zero":false},"axis":{"values":[0,0.05,0.1,0.15,0.2],"format":".2f","tickCount":10}}}},
   {"transform":[{"filter":{"field":"v","valid":true}}],"mark":"point","encoding":{"y":{"field":"v","type":"quantitative","title":null}}}]},
  {"width":26,"height":2,"view":{"stroke":null},"data":{"values":[{"t":"Fractional Abundance"}]},"mark":{"type":"text","angle":270,"baseline":"bottom","fontSize":15.5,"color":"#1a1a1a"},"encoding":{"text":{"field":"t","type":"nominal"}}},
  {"title":"p__Firmicutes","width":115,"height":94,"transform":[{"filter":{"field":"p","equal":"p__Firmicutes"}}],"encoding":{"x":{"field":"g","type":"nominal","sort":["BL","3mo"],"title":null,"scale":{"paddingInner":0,"paddingOuter":0.1},"axis":{"labelAngle":0}}},"layer":[
   {"transform":[{"filter":{"field":"q1","valid":true}}],"mark":"rule","encoding":{"y":{"field":"lo","type":"quantitative","title":null},"y2":{"field":"hi"}}},
   {"transform":[{"filter":{"field":"q1","valid":true}}],"mark":{"type":"bar","fill":"#5c5c5c","width":{"band":0.8}},"encoding":{"y":{"field":"q1","type":"quantitative","title":null},"y2":{"field":"q3"}}},
   {"transform":[{"filter":{"field":"q1","valid":true}}],"mark":{"type":"tick","size":42},"encoding":{"y":{"field":"md","type":"quantitative","title":null,"scale":{"domain":[0.178,1.011],"nice":false,"zero":false},"axis":{"values":[0.2,0.4,0.6,0.8,1.0],"format":".1f","tickCount":10}}}},
   {"transform":[{"filter":{"field":"v","valid":true}}],"mark":"point","encoding":{"y":{"field":"v","type":"quantitative","title":null}}}]},
  {"title":"c__Clostridia","width":115,"height":94,"transform":[{"filter":{"field":"p","equal":"c__Clostridia"}}],"encoding":{"x":{"field":"g","type":"nominal","sort":["BL","3mo"],"title":null,"scale":{"paddingInner":0,"paddingOuter":0.1},"axis":{"labelAngle":0}}},"layer":[
   {"transform":[{"filter":{"field":"q1","valid":true}}],"mark":"rule","encoding":{"y":{"field":"lo","type":"quantitative","title":null},"y2":{"field":"hi"}}},
   {"transform":[{"filter":{"field":"q1","valid":true}}],"mark":{"type":"bar","fill":"#5c5c5c","width":{"band":0.8}},"encoding":{"y":{"field":"q1","type":"quantitative","title":null},"y2":{"field":"q3"}}},
   {"transform":[{"filter":{"field":"q1","valid":true}}],"mark":{"type":"tick","size":42},"encoding":{"y":{"field":"md","type":"quantitative","title":null,"scale":{"domain":[0.177,0.977],"nice":false,"zero":false},"axis":{"values":[0.2,0.4,0.6,0.8],"format":".1f","tickCount":10}}}},
   {"transform":[{"filter":{"field":"v","valid":true}}],"mark":"point","encoding":{"y":{"field":"v","type":"quantitative","title":null}}}]},
  {"title":"o__Clostridiales","width":115,"height":94,"transform":[{"filter":{"field":"p","equal":"o__Clostridiales"}}],"encoding":{"x":{"field":"g","type":"nominal","sort":["BL","3mo"],"title":null,"scale":{"paddingInner":0,"paddingOuter":0.1},"axis":{"labelAngle":0}}},"layer":[
   {"transform":[{"filter":{"field":"q1","valid":true}}],"mark":"rule","encoding":{"y":{"field":"lo","type":"quantitative","title":null},"y2":{"field":"hi"}}},
   {"transform":[{"filter":{"field":"q1","valid":true}}],"mark":{"type":"bar","fill":"#5c5c5c","width":{"band":0.8}},"encoding":{"y":{"field":"q1","type":"quantitative","title":null},"y2":{"field":"q3"}}},
   {"transform":[{"filter":{"field":"q1","valid":true}}],"mark":{"type":"tick","size":42},"encoding":{"y":{"field":"md","type":"quantitative","title":null,"scale":{"domain":[0.177,0.977],"nice":false,"zero":false},"axis":{"values":[0.2,0.4,0.6,0.8],"format":".1f","tickCount":10}}}},
   {"transform":[{"filter":{"field":"v","valid":true}}],"mark":"point","encoding":{"y":{"field":"v","type":"quantitative","title":null}}}]},
  {"title":"f__Lachnospiraceae","width":115,"height":94,"transform":[{"filter":{"field":"p","equal":"f__Lachnospiraceae"}}],"encoding":{"x":{"field":"g","type":"nominal","sort":["BL","3mo"],"title":null,"scale":{"paddingInner":0,"paddingOuter":0.1},"axis":{"labelAngle":0}}},"layer":[
   {"transform":[{"filter":{"field":"q1","valid":true}}],"mark":"rule","encoding":{"y":{"field":"lo","type":"quantitative","title":null},"y2":{"field":"hi"}}},
   {"transform":[{"filter":{"field":"q1","valid":true}}],"mark":{"type":"bar","fill":"#5c5c5c","width":{"band":0.8}},"encoding":{"y":{"field":"q1","type":"quantitative","title":null},"y2":{"field":"q3"}}},
   {"transform":[{"filter":{"field":"q1","valid":true}}],"mark":{"type":"tick","size":42},"encoding":{"y":{"field":"md","type":"quantitative","title":null,"scale":{"domain":[0.0347,0.755],"nice":false,"zero":false},"axis":{"values":[0.2,0.4,0.6],"format":".1f","tickCount":10}}}},
   {"transform":[{"filter":{"field":"v","valid":true}}],"mark":"point","encoding":{"y":{"field":"v","type":"quantitative","title":null}}}]},
  {"title":"g__Dorea","width":115,"height":94,"transform":[{"filter":{"field":"p","equal":"g__Dorea"}}],"encoding":{"x":{"field":"g","type":"nominal","sort":["BL","3mo"],"title":null,"scale":{"paddingInner":0,"paddingOuter":0.1},"axis":{"labelAngle":0}}},"layer":[
   {"transform":[{"filter":{"field":"q1","valid":true}}],"mark":"rule","encoding":{"y":{"field":"lo","type":"quantitative","title":null},"y2":{"field":"hi"}}},
   {"transform":[{"filter":{"field":"q1","valid":true}}],"mark":{"type":"bar","fill":"#5c5c5c","width":{"band":0.8}},"encoding":{"y":{"field":"q1","type":"quantitative","title":null},"y2":{"field":"q3"}}},
   {"transform":[{"filter":{"field":"q1","valid":true}}],"mark":{"type":"tick","size":42},"encoding":{"y":{"field":"md","type":"quantitative","title":null,"scale":{"domain":[-0.0027,0.0607],"nice":false,"zero":false},"axis":{"values":[0,0.02,0.04,0.06],"format":".2f","tickCount":10}}}},
   {"transform":[{"filter":{"field":"v","valid":true}}],"mark":"point","encoding":{"y":{"field":"v","type":"quantitative","title":null}}}]},
  {"width":26,"height":1,"view":{"stroke":null},"data":{"values":[{"t":""}]},"mark":{"type":"text"},"encoding":{"text":{"field":"t","type":"nominal"}}},
  {"width":115,"height":1,"view":{"stroke":null},"data":{"values":[{"t":""}]},"mark":{"type":"text"},"encoding":{"text":{"field":"t","type":"nominal"}}},
  {"width":115,"height":1,"view":{"stroke":null},"data":{"values":[{"t":""}]},"mark":{"type":"text"},"encoding":{"text":{"field":"t","type":"nominal"}}},
  {"width":115,"height":1,"view":{"stroke":null},"data":{"values":[{"t":""}]},"mark":{"type":"text"},"encoding":{"text":{"field":"t","type":"nominal"}}},
  {"title":"g__.Ruminococcus.","width":115,"height":94,"transform":[{"filter":{"field":"p","equal":"g__.Ruminococcus."}}],"encoding":{"x":{"field":"g","type":"nominal","sort":["BL","3mo"],"title":null,"scale":{"paddingInner":0,"paddingOuter":0.1},"axis":{"labelAngle":0}}},"layer":[
   {"transform":[{"filter":{"field":"q1","valid":true}}],"mark":"rule","encoding":{"y":{"field":"lo","type":"quantitative","title":null},"y2":{"field":"hi"}}},
   {"transform":[{"filter":{"field":"q1","valid":true}}],"mark":{"type":"bar","fill":"#5c5c5c","width":{"band":0.8}},"encoding":{"y":{"field":"q1","type":"quantitative","title":null},"y2":{"field":"q3"}}},
   {"transform":[{"filter":{"field":"q1","valid":true}}],"mark":{"type":"tick","size":42},"encoding":{"y":{"field":"md","type":"quantitative","title":null,"scale":{"domain":[-0.0068,0.167],"nice":false,"zero":false},"axis":{"values":[0,0.05,0.1,0.15],"format":".2f","tickCount":10}}}},
   {"transform":[{"filter":{"field":"v","valid":true}}],"mark":"point","encoding":{"y":{"field":"v","type":"quantitative","title":null}}}]},
  {"title":"g__Blautia","width":115,"height":94,"transform":[{"filter":{"field":"p","equal":"g__Blautia"}}],"encoding":{"x":{"field":"g","type":"nominal","sort":["BL","3mo"],"title":null,"scale":{"paddingInner":0,"paddingOuter":0.1},"axis":{"labelAngle":0}}},"layer":[
   {"transform":[{"filter":{"field":"q1","valid":true}}],"mark":"rule","encoding":{"y":{"field":"lo","type":"quantitative","title":null},"y2":{"field":"hi"}}},
   {"transform":[{"filter":{"field":"q1","valid":true}}],"mark":{"type":"bar","fill":"#5c5c5c","width":{"band":0.8}},"encoding":{"y":{"field":"q1","type":"quantitative","title":null},"y2":{"field":"q3"}}},
   {"transform":[{"filter":{"field":"q1","valid":true}}],"mark":{"type":"tick","size":42},"encoding":{"y":{"field":"md","type":"quantitative","title":null,"scale":{"domain":[-0.007,0.507],"nice":false,"zero":false},"axis":{"values":[0,0.1,0.2,0.3,0.4,0.5],"format":".1f","tickCount":10}}}},
   {"transform":[{"filter":{"field":"v","valid":true}}],"mark":"point","encoding":{"y":{"field":"v","type":"quantitative","title":null}}}]}
 ]}
],
"config": {
 "font": "Liberation Sans",
 "view": {"stroke": "#7f7f7f", "strokeWidth": 1},
 "axis": {"domain": false, "grid": false, "labelFontSize": 10.5, "labelColor": "#4d4d4d", "tickColor": "#333333", "tickSize": 3, "labelPadding": 2, "labelOverlap": false, "labelFlush": false},
 "title": {"fontSize": 12.4, "fontWeight": "normal", "anchor": "middle", "offset": 3, "color": "#1a1a1a"},
 "rule": {"color": "#333333", "strokeWidth": 1.1},
 "bar": {"stroke": "#333333", "strokeWidth": 1.1},
 "tick": {"color": "#333333", "thickness": 2.2},
 "point": {"filled": true, "color": "#333333", "size": 22, "opacity": 1}
}
}
